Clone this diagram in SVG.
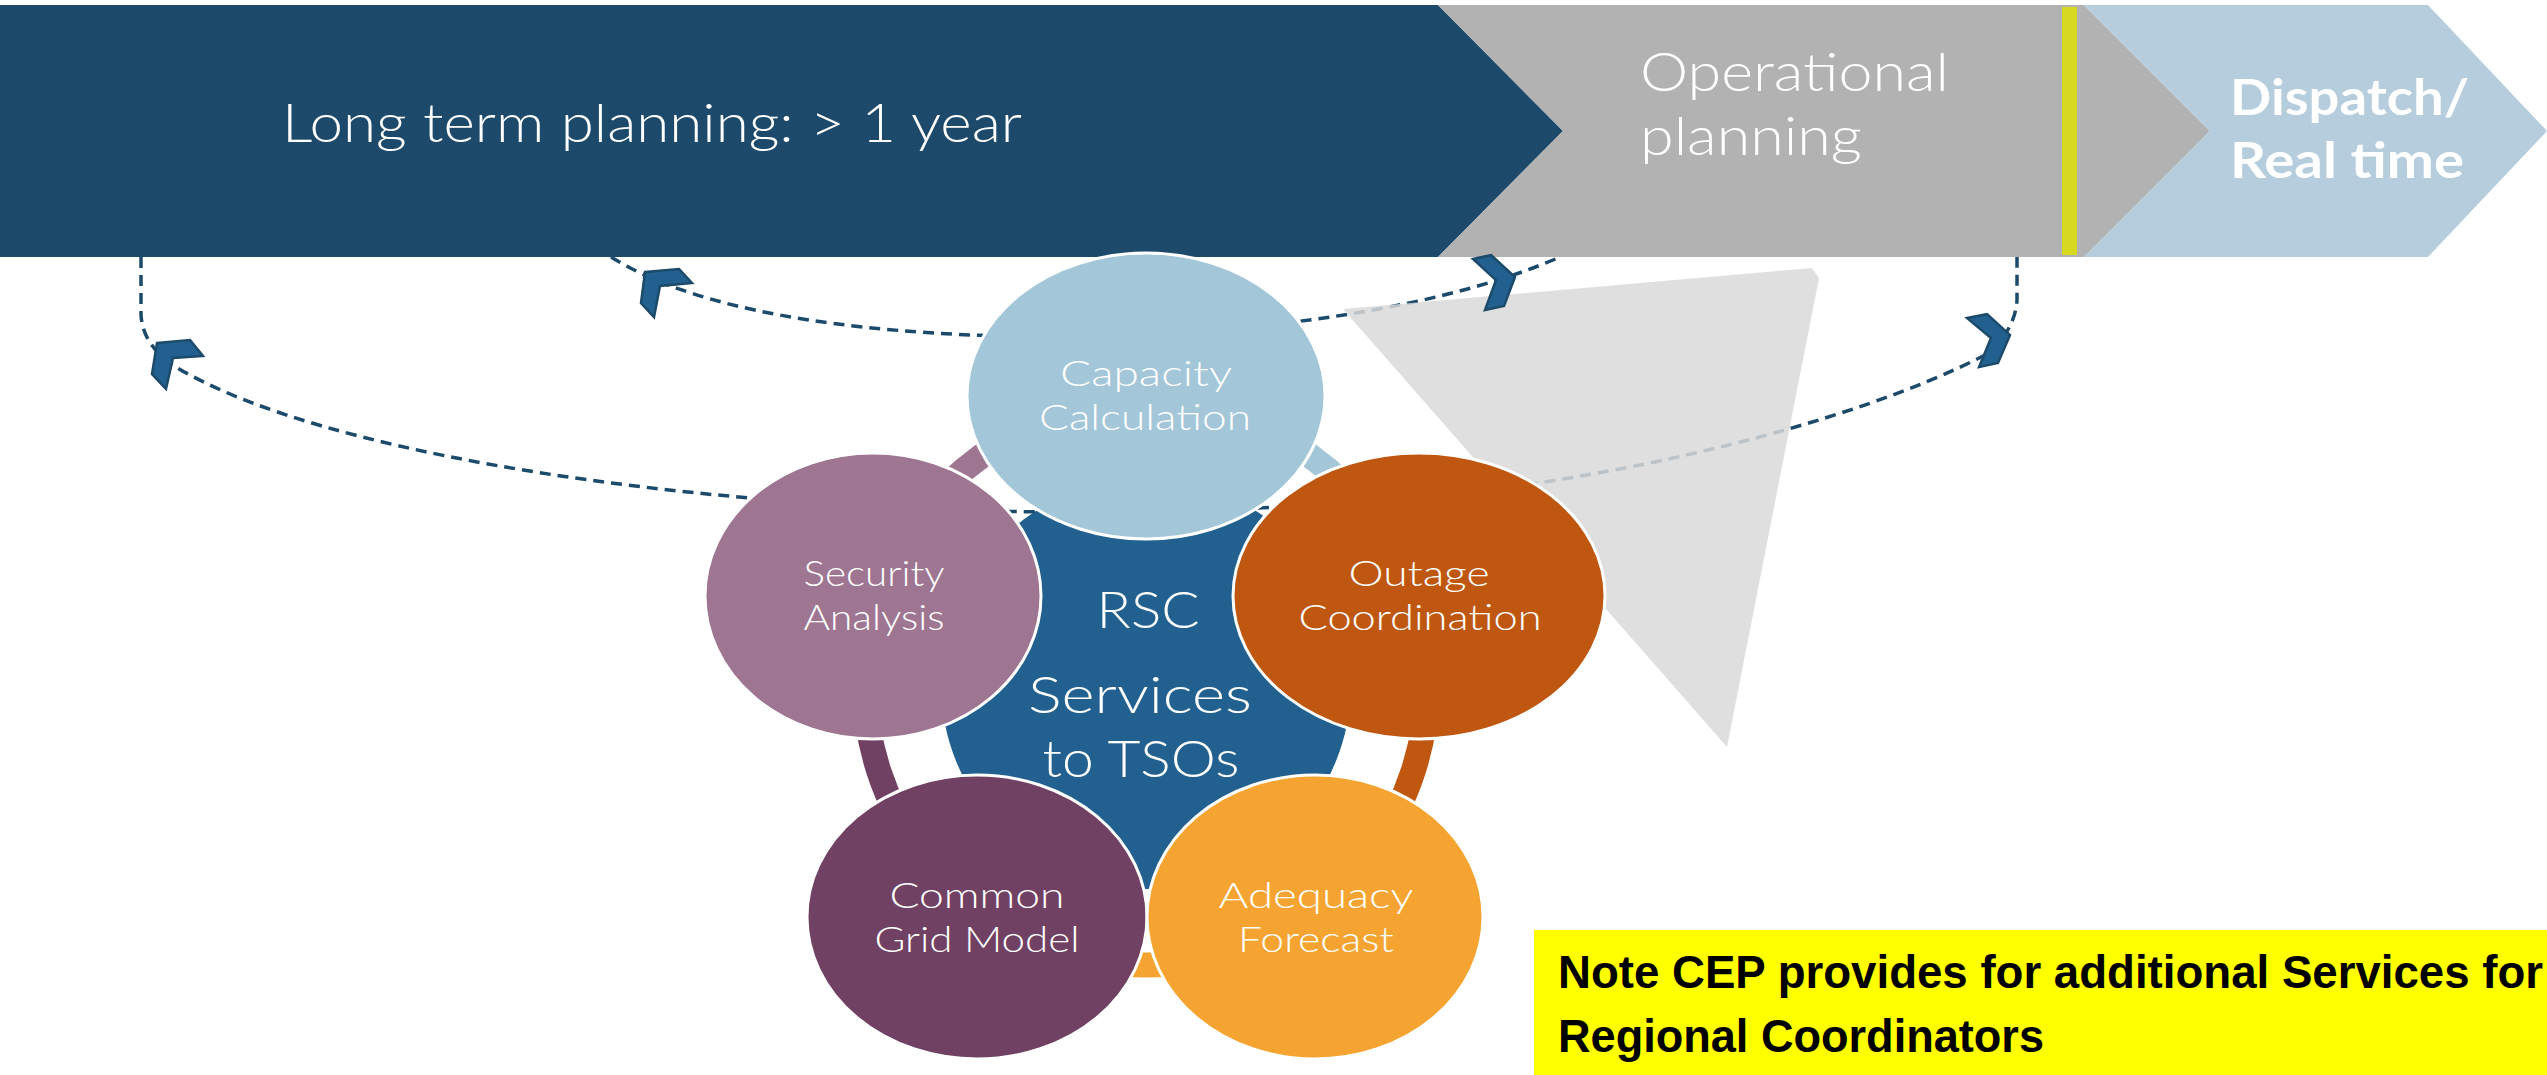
<svg xmlns="http://www.w3.org/2000/svg" width="2547" height="1075" viewBox="0 0 2547 1075">
<style>
.t{font-family:Lato,"Open Sans","Liberation Sans",sans-serif;fill:#fff;font-weight:300}
.b{font-weight:700}
.lbl{font-size:36px;text-anchor:middle}
.ctr{font-size:52px;text-anchor:middle}
.node{stroke:#fff;stroke-width:3}
.dash{fill:none;stroke:#1c4a6b;stroke-width:3.5;stroke-dasharray:11 7}
.chev{fill:#22618f;stroke:#1c4a6b;stroke-width:2.5;stroke-linejoin:miter}
.ring{fill:none;stroke-width:25}
.note{font-family:"Liberation Sans",Arial,sans-serif;font-weight:700;font-size:46px;fill:#000}
</style>
<rect width="2547" height="1075" fill="#fff"/>
<g id="phase-long-term">
<polygon points="0,5 1438,5 1563,131 1438,257 0,257" fill="#1d4a6a"/>
<text class="t" x="282" y="142" font-size="54" textLength="740" lengthAdjust="spacingAndGlyphs">Long term planning: &gt; 1 year</text>
</g>
<g id="phase-operational">
<polygon points="1438,5 2084,5 2210,131 2084,257 1438,257 1563,131" fill="#b2b2b2"/>
<rect x="2062" y="7" width="15" height="248" fill="#d6d91f"/>
<text class="t" x="1640" y="91" font-size="54" textLength="309" lengthAdjust="spacingAndGlyphs">Operational</text>
<text class="t" x="1640" y="155" font-size="54" textLength="222" lengthAdjust="spacingAndGlyphs">planning</text>
</g>
<g id="phase-dispatch">
<polygon points="2084,5 2428,5 2547,131 2428,257 2084,257 2210,131" fill="#b6cddd"/>
<text class="t b" x="2230" y="115" font-size="50" textLength="239" lengthAdjust="spacingAndGlyphs">Dispatch/</text>
<text class="t b" x="2230" y="178" font-size="50" textLength="234" lengthAdjust="spacingAndGlyphs">Real time</text>
</g>
<g id="cycle-ring">
<path class="ring" stroke="#a3c6d8" d="M1146,403 A281,281 0 0 1 1413.3,597.2"/>
<path class="ring" stroke="#bf5710" d="M1413.3,597.2 A281,281 0 0 1 1311.2,911.3"/>
<path class="ring" stroke="#f5a431" d="M1311.2,911.3 A281,281 0 0 1 980.8,911.3"/>
<path class="ring" stroke="#704163" d="M980.8,911.3 A281,281 0 0 1 878.7,597.2"/>
<path class="ring" stroke="#9e7692" d="M878.7,597.2 A281,281 0 0 1 1146,403"/>
</g>
<g id="center-rsc">
<circle cx="1146" cy="684" r="205" fill="#22618f"/>
</g>
<g id="connectors">
<path class="dash" d="M141,257 V315 C143,345 165,362 190,375 C330,450 620,495 900,508 C1020,515 1270,513 1400,498 C1600,485 1850,425 1985,355 C2005,340 2016,320 2017,300 V257"/>
<path class="dash" d="M611,257 C680,300 800,330 1000,336 C1200,340 1420,318 1560,257"/>
</g>
<g id="shadow-triangle">
<polygon points="1343,309 1812,268 1819,278 1727,747" fill="#d9d9d9" fill-opacity="0.85"/>
</g>
<g id="connector-arrows">
<polygon class="chev" points="157,343 190,340 203,356 173,358 166,389 152,374"/>
<polygon class="chev" points="645,272 679,269 692,283 660,286 654,317 641,303"/>
<polygon class="chev" points="1473,259 1491,255 1515,277 1504,306 1485,310 1496,280"/>
<polygon class="chev" points="1967,318 1987,314 2010,335 1998,363 1979,367 1991,338"/>
</g>
<g id="center-label">
<text class="t ctr" x="1148" y="628" textLength="103" lengthAdjust="spacingAndGlyphs">RSC</text>
<text class="t ctr" x="1140" y="713" textLength="224" lengthAdjust="spacingAndGlyphs">Services</text>
<text class="t ctr" x="1141" y="777" textLength="197" lengthAdjust="spacingAndGlyphs">to TSOs</text>
</g>
<g id="node-capacity">
<ellipse class="node" cx="1146" cy="396" rx="179" ry="143" fill="#a3c6d8"/>
<text class="t lbl" x="1146" y="386" textLength="172" lengthAdjust="spacingAndGlyphs">Capacity</text>
<text class="t lbl" x="1145" y="430" textLength="212" lengthAdjust="spacingAndGlyphs">Calculation</text>
</g>
<g id="node-security">
<ellipse class="node" cx="873" cy="596" rx="168" ry="143" fill="#9e7692"/>
<text class="t lbl" x="874" y="586" textLength="141" lengthAdjust="spacingAndGlyphs">Security</text>
<text class="t lbl" x="874" y="630" textLength="141" lengthAdjust="spacingAndGlyphs">Analysis</text>
</g>
<g id="node-outage">
<ellipse class="node" cx="1419" cy="596" rx="186" ry="143" fill="#bf5710"/>
<text class="t lbl" x="1419" y="586" textLength="141" lengthAdjust="spacingAndGlyphs">Outage</text>
<text class="t lbl" x="1420" y="630" textLength="243" lengthAdjust="spacingAndGlyphs">Coordination</text>
</g>
<g id="node-common-grid">
<ellipse class="node" cx="977" cy="917" rx="170" ry="142" fill="#704163"/>
<text class="t lbl" x="977" y="908" textLength="175" lengthAdjust="spacingAndGlyphs">Common</text>
<text class="t lbl" x="977" y="952" textLength="205" lengthAdjust="spacingAndGlyphs">Grid Model</text>
</g>
<g id="node-adequacy">
<ellipse class="node" cx="1315" cy="917" rx="168" ry="142" fill="#f5a431"/>
<text class="t lbl" x="1316" y="908" textLength="195" lengthAdjust="spacingAndGlyphs">Adequacy</text>
<text class="t lbl" x="1316" y="952" textLength="156" lengthAdjust="spacingAndGlyphs">Forecast</text>
</g>
<g id="note">
<rect x="1534" y="930" width="1013" height="145" fill="#ffff00"/>
<text class="note" x="1558" y="988" textLength="985" lengthAdjust="spacingAndGlyphs">Note CEP provides for additional Services for</text>
<text class="note" x="1558" y="1052" textLength="486" lengthAdjust="spacingAndGlyphs">Regional Coordinators</text>
</g>
</svg>
